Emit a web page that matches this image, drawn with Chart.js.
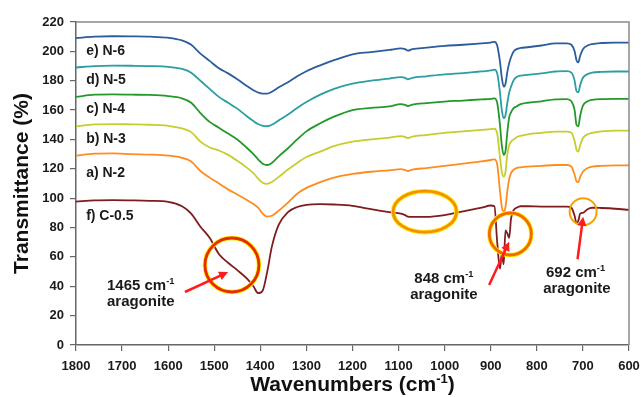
<!DOCTYPE html>
<html lang="en">
<head>
<meta charset="UTF-8">
<script src="https://cdn.jsdelivr.net/npm/chart.js"></script>
<title>FTIR aragonite</title>
<style>
  body { margin: 0; background: #fff; }
  #caixa { width: 641px; height: 397px; }
</style>
</head>
<body>
<div id="caixa"><canvas id="grafico"></canvas></div>
<script>
// eixo x compartilhado (cm-1)
const wavenumbers = [1800, 1760, 1720, 1680, 1640, 1600, 1570, 1550, 1530, 1510, 1490, 1470, 1450, 1430, 1415, 1405,
  1395, 1385, 1375, 1360, 1340, 1320, 1300, 1270, 1240, 1200, 1160, 1120, 1095, 1086, 1080, 1070, 1040, 1000, 960, 920,
  900, 892, 886, 880, 876, 872, 868, 864, 860, 856, 850, 844, 835, 820, 790, 760, 735, 725, 718, 714, 710, 706, 700,
  690, 680, 660, 630, 600];

const n6 = [209, 210, 210.3, 210.2, 210, 209.3, 207.5, 204.5, 198.5, 193.5, 188.5, 185, 181, 176.5, 173.5, 172,
  171.2, 171.2, 172.5, 175.5, 179, 183, 186.5, 190.5, 194, 198, 199.5, 201, 202, 201.5, 200.5, 201.5, 202.5, 203.7, 204.5, 205.5,
  206, 206.5, 204, 193, 182, 176, 178, 186, 192, 196, 200, 201.5, 202.3, 202.8, 204, 205.5, 205.5, 204.5, 200, 194, 192.5, 197, 201.5,
  204, 205, 205.7, 206, 206];
const n5 = [189, 190, 190.3, 190.2, 190, 189.5, 188, 185.5, 180, 174.5, 169, 165, 161, 156, 152.5, 150.5,
  149.3, 149, 150, 153, 157, 161.5, 165.5, 170.5, 174.5, 178, 180, 181.5, 182.5, 182, 181, 182, 183, 184.3, 185.2, 186.3,
  187, 187.5, 185, 172, 160, 154.5, 156.5, 165, 172, 176, 180.5, 182.5, 183.5, 184, 185, 186.3, 186.5, 185.5, 180, 173, 172, 177, 182,
  184.5, 185.5, 186, 186.3, 186.3];
const n4 = [169, 170.5, 170.7, 170.5, 170.3, 169.5, 168, 165, 158, 152, 148, 144, 140, 134.5, 130, 126.5,
  123.5, 122.6, 124, 128.5, 134, 140, 145.5, 151, 155.5, 160, 161.5, 162.5, 164, 163.5, 162.8, 163.8, 164.8, 165.8, 166.5, 167.3,
  167.6, 168, 165, 150, 136, 129.5, 132, 145, 155, 158.5, 161.5, 162.5, 164, 165, 166, 167.3, 167.5, 166, 160, 150, 149, 156, 163,
  166, 167, 167.5, 167.6, 167.6];
const n3 = [149, 150.3, 150.5, 150.3, 150, 149.3, 147.5, 145, 138.5, 134.5, 132.5, 129.5, 125.5, 121, 117, 113.5,
  110.5, 109.7, 111, 114.5, 119.5, 124, 128, 131.7, 135.5, 138.5, 140, 141.2, 142.3, 141.8, 141, 142, 143, 144.5, 145.5, 146.5,
  147, 147.3, 144, 128, 118, 114.7, 118, 130, 136, 138.5, 140, 141.5, 142.5, 143.5, 144.5, 145.3, 145.3, 144.5, 139, 133, 131.7, 136, 141,
  143.5, 144.5, 145.5, 146, 146];
const n2 = [129, 130.3, 130.5, 130, 129.7, 129, 127.5, 125, 118.5, 114, 110, 106, 102.5, 99, 96, 93.5,
  89.5, 87.5, 88, 91.5, 97, 103, 107, 111, 114, 116.5, 118, 119, 119.8, 119.2, 118.5, 119.5, 120.5, 122, 123.5, 125,
  126, 126.5, 123, 105, 94, 91, 94, 105, 113, 117, 119.5, 120.5, 121, 121.5, 122, 122.6, 122.6, 121.5, 116, 111.5, 111, 114.5, 118,
  120.5, 121.5, 122, 122.3, 122.3];
const c05 = [97.6, 98.5, 98.7, 98.5, 98.2, 97.5, 94.5, 89.5, 80.5, 73, 62, 56, 51, 45.5, 40, 35.3,
  37, 50, 67, 82, 90.5, 94, 95.5, 96, 95.7, 94.8, 92.5, 90.5, 89.5, 88.5, 87.5, 87.3, 87.3, 88.5, 91, 93.5,
  95, 94.5, 70, 52, 62, 55, 78, 76, 73, 86, 92, 93.5, 94.5, 94.5, 94.3, 94.3, 94.3, 93.5, 88, 83, 84.5, 89.5, 90,
  92.5, 93.5, 93.3, 92.8, 92];

const nomes = ['e) N-6', 'd) N-5', 'c) N-4', 'b) N-3', 'a) N-2', 'f) C-0.5'];
const series = [n6, n5, n4, n3, n2, c05];
const cores = ['#2b5c9c', '#2a9ea2', '#23992b', '#c6cd2c', '#ff8c1e', '#7e1c1f'];

const xTicks = [1800, 1700, 1600, 1500, 1400, 1300, 1200, 1100, 1000, 900, 800, 700, 600];
const yTicks = [0, 20, 40, 60, 80, 100, 120, 140, 160, 180, 200, 220];

// onde escrever os nomes (unidades do grafico)
const posNomes = [[1778, 197.5], [1778, 177.8], [1778, 157.8], [1778, 137.4], [1778, 114.6], [1778, 85.1]];

const fonte = '"Liberation Sans", Arial, sans-serif';

const desenhaTexto = (ctx, partes, x, y, tam, alinh) => {
  let total = 0;
  const larg = partes.map(([t, sup]) => {
    ctx.font = 'bold ' + (sup ? tam * 0.62 : tam) + 'px ' + fonte;
    const w = ctx.measureText(t).width;
    total += w;
    return w;
  });
  let cx = alinh === 'center' ? x - total / 2 : x;
  ctx.textAlign = 'left';
  ctx.textBaseline = 'alphabetic';
  partes.forEach(([t, sup], i) => {
    ctx.font = 'bold ' + (sup ? tam * 0.62 : tam) + 'px ' + fonte;
    ctx.fillText(t, cx, sup ? y - tam * 0.4 : y);
    cx += larg[i];
  });
};

const seta = (ctx, x1, y1, x2, y2) => {
  const a = Math.atan2(y2 - y1, x2 - x1);
  const L = 9, W = 4.5;
  ctx.strokeStyle = '#ff1c1c';
  ctx.fillStyle = '#ff1c1c';
  ctx.lineWidth = 2.5;
  ctx.beginPath();
  ctx.moveTo(x1, y1);
  ctx.lineTo(x2 - L * 0.8 * Math.cos(a), y2 - L * 0.8 * Math.sin(a));
  ctx.stroke();
  ctx.beginPath();
  ctx.moveTo(x2, y2);
  ctx.lineTo(x2 - L * Math.cos(a) + W * Math.sin(a), y2 - L * Math.sin(a) - W * Math.cos(a));
  ctx.lineTo(x2 - L * Math.cos(a) - W * Math.sin(a), y2 - L * Math.sin(a) + W * Math.cos(a));
  ctx.closePath();
  ctx.fill();
};

const anel = (ctx, x, y, rx, ry, corFora, corDentro) => {
  ctx.beginPath();
  ctx.ellipse(x, y, rx, ry, 0, 0, Math.PI * 2);
  if (corFora) {
    ctx.strokeStyle = corFora;
    ctx.lineWidth = 4.5;
    ctx.stroke();
  }
  ctx.strokeStyle = corDentro;
  ctx.lineWidth = corFora ? 2.8 : 2;
  ctx.stroke();
};

const anotacoes = {
  id: 'anotacoes',
  afterDatasetsDraw(chart) {
    const ctx = chart.ctx;
    const sx = chart.scales.x, sy = chart.scales.y;
    const px = v => sx.getPixelForValue(v);
    const py = v => sy.getPixelForValue(v);
    const area = chart.chartArea;
    ctx.save();

    // moldura (topo e direita)
    ctx.strokeStyle = '#8a8a8a';
    ctx.lineWidth = 1.5;
    ctx.beginPath();
    ctx.moveTo(area.left, area.top);
    ctx.lineTo(area.right, area.top);
    ctx.lineTo(area.right, area.bottom);
    ctx.stroke();

    // nomes das amostras
    ctx.fillStyle = '#1a1a1a';
    posNomes.forEach(([w, v], i) => desenhaTexto(ctx, [[nomes[i], false]], px(w), py(v), 14, 'left'));

    // circulos
    anel(ctx, px(1461.6), py(54.5), 27, 27, '#ffee00', '#e82a00');
    anel(ctx, px(1043), py(90.8), 31.7, 20.5, '#ffe800', '#f39200');
    anel(ctx, px(857.5), py(75.6), 21, 21, '#ffee00', '#f06a00');
    anel(ctx, px(699.5), py(90.8), 13.5, 13.5, null, '#f5a200');

    // setas
    seta(ctx, px(1563.6), py(36.1), px(1470), py(49.7));
    seta(ctx, px(903.5), py(40.9), px(860), py(70.4));
    seta(ctx, px(711.7), py(58.4), px(699.5), py(87.4));

    // textos
    ctx.fillStyle = '#1a1a1a';
    desenhaTexto(ctx, [['1465 cm', false], ['-1', true]], px(1732.8), py(37.5), 15, 'left');
    desenhaTexto(ctx, [['aragonite', false]], px(1732.8), py(26.6), 15, 'left');
    desenhaTexto(ctx, [['848 cm', false], ['-1', true]], px(1001.7), py(42), 15, 'center');
    desenhaTexto(ctx, [['aragonite', false]], px(1001.7), py(31.3), 15, 'center');
    desenhaTexto(ctx, [['692 cm', false], ['-1', true]], px(716), py(46.5), 15, 'center');
    desenhaTexto(ctx, [['aragonite', false]], px(713), py(35.4), 15, 'center');

    // titulo do eixo x
    ctx.fillStyle = '#111';
    desenhaTexto(ctx, [['Wavenumbers (cm', false], ['-1', true], [')', false]],
      (area.left + area.right) / 2, chart.height - 6, 21, 'center');
    ctx.restore();
  }
};

const ctx = document.getElementById('grafico');
const grafico = new Chart(ctx, {
  type: 'line',
  data: {
    datasets: series.map((arr, i) => ({
      label: nomes[i],
      data: wavenumbers.map((w, j) => ({ x: w, y: arr[j] })),
      borderColor: cores[i],
      borderWidth: 1.8,
      pointRadius: 0,
      cubicInterpolationMode: 'monotone',
      fill: false
    }))
  },
  options: {
    responsive: true,
    maintainAspectRatio: false,
    animation: false,
    layout: { padding: { top: 22, right: 12, left: 0, bottom: 0 } },
    plugins: { legend: { display: false }, tooltip: { enabled: false } },
    scales: {
      x: {
        type: 'linear',
        reverse: true,
        min: 600,
        max: 1800,
        afterBuildTicks: s => { s.ticks = xTicks.map(v => ({ value: v })); },
        afterFit: s => { s.height = 52; s.paddingLeft = 0; s.paddingRight = 0; },
        grid: { drawOnChartArea: false, drawTicks: true, tickLength: 6, color: '#666', lineWidth: 1.2 },
        border: { color: '#666', width: 1.5 },
        ticks: {
          color: '#1a1a1a',
          font: { family: fonte, size: 13, weight: 'bold' },
          padding: 8,
          maxRotation: 0,
          autoSkip: false,
          callback: v => String(v)
        }
      },
      y: {
        min: 0,
        max: 220,
        afterBuildTicks: s => { s.ticks = yTicks.map(v => ({ value: v })); },
        afterFit: s => { s.width = 76; },
        grid: { drawOnChartArea: false, drawTicks: true, tickLength: 6, color: '#666', lineWidth: 1.2 },
        border: { color: '#666', width: 1.5 },
        ticks: { color: '#1a1a1a', font: { family: fonte, size: 13, weight: 'bold' }, padding: 6, callback: v => String(v) },
        title: {
          display: true,
          text: 'Transmittance (%)',
          color: '#111',
          font: { family: fonte, size: 21, weight: 'bold' },
          padding: { top: 10, bottom: 0 }
        }
      }
    }
  },
  plugins: [anotacoes]
});
</script>
</body>
</html>
